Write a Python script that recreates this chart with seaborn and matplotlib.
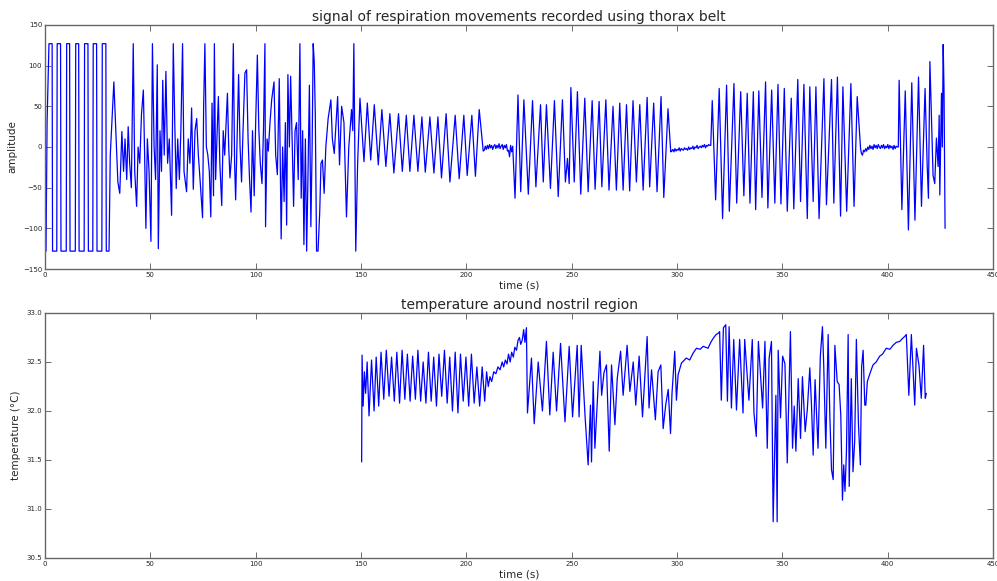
import matplotlib
matplotlib.use("Agg")
import matplotlib.pyplot as plt
import seaborn as sns

# ---- thorax belt signal (time s, amplitude) ----
square_t = [0, 0.5, 1.0, 1.9, 3.4, 3.6, 5.6, 5.8, 7.4, 7.6, 10.1, 10.3, 11.7, 11.9, 14.4, 14.6,
            16.0, 16.2, 18.6, 18.8, 20.4, 20.6, 22.7, 22.9, 24.5, 24.7, 27.0, 27.2, 28.9, 29.1, 30.4]
square_v = [-60, -128, 30, 127, 127, -128, -128, 127, 127, -128, -128, 127, 127, -128, -128, 127,
            127, -128, -128, 127, 127, -128, -128, 127, 127, -128, -128, 127, 127, -128, -128]

irregular_t = [31.0, 32.7, 34.6, 35.5, 36.5, 37.3, 38.0, 38.8, 39.5, 40.2, 41.0, 41.9, 42.6, 43.5,
               44.2, 45.0, 45.8, 46.7, 47.3, 47.9, 48.6, 49.4, 50.3, 51.0, 51.8, 52.5, 53.3, 53.8,
               54.6, 55.3, 55.9, 56.6, 57.4, 58.2, 59.0, 60.1, 60.9, 61.6, 62.3, 63.0, 63.8, 64.5,
               65.3, 66.0, 67.2, 68.0, 68.8, 69.6, 70.4, 71.2, 72.0, 72.8, 73.6, 74.8, 75.3, 75.9,
               76.6, 77.3, 78.0, 78.7, 79.3, 80.0, 80.4, 81.0, 81.6, 82.3, 83.0, 83.9, 84.6, 85.3,
               86.0, 86.6, 87.2, 87.8, 88.6, 89.4, 90.0, 90.5, 91.2, 91.9, 92.6, 93.3, 94.0, 94.9,
               95.7, 96.4, 97.1, 97.8, 98.5, 99.3, 100.0, 100.8, 101.5, 102.2, 103.0, 103.7, 104.4,
               104.7, 105.4, 106.0, 106.8, 107.6, 108.7, 109.5, 110.3, 111.2, 112.1, 112.8, 113.5,
               114.1, 114.7, 115.3, 116.0, 116.6, 117.3, 118.0, 118.7, 119.4, 120.2, 121.0, 121.6,
               122.3, 122.9, 123.6, 124.2, 124.8, 125.5, 126.2, 126.8, 127.3, 127.8, 128.3, 128.9,
               129.6, 130.4, 131.0, 131.7, 132.5, 133.3, 134.4, 135.7, 136.4, 137.3, 138.9, 139.8,
               140.8, 141.9, 143.1, 144.2, 145.5, 146.1, 146.6, 147.5, 148.4]
irregular_v = [-10, 80, -43, -57, 19, -30, 10, -40, 25, -20, -50, 127, -30, -73,
               0, -20, 40, 70, -10, -100, 10, -30, -116, 127, 0, -40, 101, -125,
               20, -30, 82, -10, 93, -20, 10, -84, 127, 30, -51, 10, -40, 20,
               127, -30, -55, 10, -20, 48, -52, 20, 35, -10, -40, -87, 48, 127,
               0, -10, -30, -86, 54, -60, 127, -40, 10, 62, -20, -72, 20, -10,
               30, 66, 0, -38, -10, 127, -20, -65, 10, 89, 0, -43, 20, 91,
               95, 10, -40, -80, 20, -60, 30, 113, 22, -20, -45, 20, 127,
               -98, 10, -5, 30, 58, 80, -10, -34, 84, -113, 0, -67,
               30, -96, 89, 0, 87, 10, -73, 20, 30, -40, 127, -63,
               20, -120, 10, -128, -40, 76, -98, 0, 127, 105, 40, -128,
               -128, -80, -20, -16, -57, 0, 35, 58, 10, -8, 62, -22,
               50, 30, -86, 0, 46, 20, 127, -128, -20]

regular1_t = [149.5, 151.4, 153.0, 154.6, 156.3, 158.2, 159.9, 161.8, 163.7, 165.6, 167.8, 169.6,
              171.5, 173.2, 175.1, 177.0, 178.9, 180.5, 182.7, 184.6, 186.5, 188.2, 190.4, 192.2,
              194.7, 196.6, 198.8, 200.4, 202.6, 204.3, 206.1, 208.0]
regular1_v = [60, -18, 54, -16, 52, -22, 46, -24, 41, -32, 41, -30,
              39, -30, 39, -30, 37, -31, 37, -32, 37, -38, 41, -43,
              39, -39, 39, -35, 39, -36, 46, -5]

flat1_t = [208.5, 209.0, 209.5, 210.0, 210.5, 211.0, 211.5, 212.0, 212.5, 213.0, 213.5, 214.0,
           214.5, 215.0, 215.5, 216.0, 216.5, 217.0, 217.5, 218.0, 218.5, 219.0, 219.5, 220.0,
           220.5, 221.0, 221.5, 222.0]
flat1_v = [-4, 1, -3, 2, -2, 3, -1, 2, -3, 1, 3, -2,
           2, -1, 4, -2, 1, 3, -3, 2, -1, 3, -5, -4,
           -12, 2, -6, 1]

regular2_t = [223.1, 224.5, 225.8, 227.3, 229.4, 231.4, 233.0, 235.2, 236.5, 238.0, 239.9, 241.8,
              243.6, 245.6, 247.0, 248.0, 248.8, 249.6, 251.2, 252.7, 254.3, 256.2, 257.8, 259.7,
              261.1, 263.0, 264.3, 266.2, 267.7, 269.6, 271.2, 272.8, 274.4, 276.0, 277.5, 279.1,
              280.7, 282.3, 283.9, 285.8, 287.0, 288.9, 290.5, 292.4, 293.7, 295.7, 297.0]
regular2_v = [-63, 64, -55, 58, -58, 57, -49, 52, -43, 52, -51, 57,
              -61, 58, -43, -14, -45, 73, -43, 68, -58, 60, -55, 57,
              -52, 56, -49, 58, -53, 50, -53, 54, -53, 52, -54, 57,
              -43, 52, -53, 61, -49, 54, -55, 62, -62, 47, -6]

flat2_t = [297.5, 298.0, 298.5, 299.0, 299.5, 300.0, 300.5, 301.0, 301.5, 302.0, 302.5, 303.0,
           303.5, 304.0, 304.5, 305.0, 305.5, 306.0, 306.5, 307.0, 307.5, 308.0, 308.5, 309.0,
           309.5, 310.0, 310.5, 311.0, 311.5, 312.0, 312.5, 313.0, 313.5, 314.0, 314.5, 315.0,
           315.5]
flat2_v = [-5, -3, -6, -2, -5, -3, -4, -1, -5, -2, -3, -4,
           -1, -3, -2, -4, 0, -3, -1, -2, 1, -3, 0, -1,
           2, -2, 0, 1, -1, 2, 0, 3, -1, 2, 1, 3,
           2]

regular3_t = [316.0, 316.7, 318.3, 320.0, 321.6, 323.5, 324.8, 327.0, 328.3, 330.2, 331.7, 333.3,
              334.6, 336.2, 337.3, 338.8, 340.3, 342.0, 343.1, 344.9, 346.4, 347.9, 349.3, 350.9,
              352.3, 354.2, 355.4, 357.3, 358.6, 360.2, 361.8, 363.0, 364.6, 365.9, 367.4, 369.7,
              370.9, 373.3, 374.4, 376.1, 377.6, 378.7, 380.5, 382.5, 384.0, 385.5, 387.1]
regular3_v = [2, 57, -65, 72, -88, 76, -79, 78, -69, 68, -60, 66,
              -69, 68, -77, 69, -62, 80, -75, 70, -69, 77, -70, 72,
              -79, 60, -76, 83, -67, 77, -88, 74, -67, 74, -88, 84,
              -71, 83, -69, 86, -85, 74, -79, 78, -73, 62, -2]

flat3_t = [387.5, 388.0, 388.5, 389.0, 389.5, 390.0, 390.5, 391.0, 391.5, 392.0, 392.5, 393.0,
           393.5, 394.0, 394.5, 395.0, 395.5, 396.0, 396.5, 397.0, 397.5, 398.0, 398.5, 399.0,
           399.5, 400.0, 400.5, 401.0, 401.5, 402.0, 402.5, 403.0, 403.5, 404.0, 404.5]
flat3_v = [-8, -10, -4, -6, -2, -5, 0, -3, 2, -2, 1, -3,
           3, -1, 2, -2, 3, 0, -2, 2, -1, 3, -2, 1,
           -1, 3, -2, 2, -1, 1, -3, 2, -2, 1, 0]

final_t = [405.0, 405.4, 406.7, 408.3, 409.8, 411.4, 412.9, 414.6, 416.0, 417.7, 418.7, 419.3,
           420.0, 421.5, 422.3, 423.1, 423.9, 424.4, 424.7, 425.5, 425.9, 426.3, 426.7, 427.2]
final_v = [0, 82, -77, 69, -102, 79, -90, 86, -73, 72, -22, -63,
           105, -35, -45, 11, -24, 39, -59, 66, 0, 126, 70, -100]

# ---- nostril temperature (time s, deg C) ----
temp_t = [150.3, 150.5, 151.0, 151.6, 152.2, 152.9, 153.8, 155.0, 156.2, 157.2, 158.4, 159.5,
          160.8, 162.0, 163.3, 164.5, 165.8, 167.0, 168.3, 169.5, 170.8, 172.0, 173.3, 174.5,
          175.8, 177.0, 178.3, 179.5, 180.8, 182.0, 183.3, 184.5, 185.8, 187.0, 188.3, 189.6,
          190.9, 192.1, 193.4, 194.7, 196.0, 197.2, 198.5, 199.8, 201.1, 202.4, 203.7, 205.0,
          206.3, 207.5, 208.7, 209.6, 210.4, 211.2, 212.0, 213.0,
          214.0, 215.0, 216.0, 217.0, 217.7, 218.5, 219.3, 220.0, 220.8, 221.5, 222.3, 223.0,
          223.8, 224.5, 225.2, 225.8, 226.5, 227.2, 227.8, 228.5, 229.0, 230.9, 232.2, 234.1,
          236.1, 238.0, 239.6, 241.2, 242.8, 244.7, 246.8, 248.8, 250.4, 252.6, 253.5, 254.5,
          256.3, 257.8, 258.9, 259.4, 260.2, 261.0, 263.4, 264.2, 265.3, 266.5, 267.8, 268.9,
          270.5, 271.6, 273.2, 274.4, 276.3, 277.6, 279.2, 280.4, 282.0, 283.6, 285.8, 286.7,
          287.9, 289.7, 291.0, 292.3, 293.4, 294.6, 295.8, 296.9, 297.6, 298.9, 299.7, 300.5,
          302.1, 304.4, 306.0, 307.6, 309.2, 311.0, 312.4, 313.5, 314.7, 316.0, 317.1, 318.5,
          319.4, 320.2, 321.0, 322.0, 323.1, 323.9, 324.7, 325.8, 326.9, 328.2, 329.7, 331.3,
          332.1, 334.1, 335.7, 336.5, 337.6, 338.6, 339.5, 340.6, 341.7, 342.8, 343.7, 344.8,
          345.6, 346.9, 347.5, 348.0, 349.1, 350.1, 351.2, 352.3, 353.8, 354.8, 355.6, 356.4,
          357.5, 358.6, 359.5, 360.8, 361.8, 363.0, 363.8, 364.6, 365.5, 366.9, 368.0, 369.0,
          369.6, 370.6, 371.7, 372.5, 373.3, 374.1, 374.9, 376.0, 376.9, 377.7, 378.5, 379.1,
          379.7, 380.4, 381.2, 381.7, 382.7, 383.5, 384.3, 385.1, 386.1, 387.0, 387.6, 388.3,
          389.1, 389.6, 390.3, 391.5, 393.0, 394.5, 396.2, 397.5, 399.3, 401.0, 402.5, 404.0,
          405.7, 407.0, 408.0, 408.8, 410.0, 411.2, 412.8, 413.6, 414.8, 415.9, 417.0, 417.8,
          418.3]
temp_v = [31.48, 32.57, 32.05, 32.40, 32.18, 32.50, 31.95, 32.52, 32.00, 32.55, 32.05, 32.60,
          32.12, 32.62, 32.15, 32.55, 32.10, 32.60, 32.08, 32.62, 32.12, 32.58, 32.10, 32.56,
          32.12, 32.62, 32.10, 32.50, 32.08, 32.60, 32.10, 32.55, 32.05, 32.58, 32.15, 32.62,
          32.08, 32.55, 32.00, 32.60, 31.98, 32.58, 32.10, 32.55, 32.05, 32.58, 32.08, 32.45,
          32.05, 32.45, 32.10, 32.40, 32.25, 32.35, 32.30, 32.40,
          32.38, 32.45, 32.42, 32.50, 32.45, 32.52, 32.48, 32.58, 32.50, 32.60, 32.55, 32.65,
          32.62, 32.72, 32.75, 32.68, 32.72, 32.83, 32.70, 32.85, 31.98, 32.54, 31.87, 32.50,
          32.00, 32.71, 31.96, 32.60, 32.00, 32.69, 31.89, 32.66, 31.94, 32.67, 31.94, 32.67,
          31.96, 31.45, 32.06, 31.48, 32.30, 31.62, 32.61, 32.16, 32.39, 32.47, 31.59, 32.47,
          31.86, 32.33, 32.61, 32.16, 32.67, 32.20, 32.50, 32.06, 32.56, 31.94, 32.76, 32.03,
          32.42, 31.91, 32.40, 32.47, 31.82, 32.06, 32.22, 31.77, 32.18, 32.61, 32.11, 32.37,
          32.49, 32.54, 32.52, 32.59, 32.64, 32.63, 32.66, 32.65, 32.64, 32.70, 32.74, 32.78,
          32.79, 32.81, 32.11, 32.85, 32.88, 32.10, 32.86, 32.03, 32.73, 32.01, 32.73, 31.98,
          32.73, 32.11, 32.73, 31.98, 31.74, 32.71, 32.40, 32.03, 32.71, 31.62, 32.54, 32.71,
          30.87, 32.16, 30.87, 32.62, 31.93, 32.56, 32.48, 31.47, 32.81, 31.62, 32.05, 31.59,
          32.33, 31.72, 32.35, 31.79, 32.01, 32.44, 32.06, 31.55, 32.32, 31.62, 32.56, 32.86,
          32.47, 31.62, 32.78, 31.96, 31.40, 31.30, 32.67, 32.30, 32.27, 31.96, 31.09, 31.45,
          31.18, 31.59, 32.78, 31.23, 32.33, 31.38, 31.69, 32.73, 31.86, 31.45, 32.45, 32.62,
          32.06, 32.06, 32.30, 32.38, 32.47, 32.50, 32.56, 32.58, 32.64, 32.63, 32.67, 32.70,
          32.71, 32.74, 32.76, 32.78, 32.16, 32.78, 32.06, 32.64, 32.47, 32.13, 32.67, 32.13,
          32.18]

x_ticks = [0, 50, 100, 150, 200, 250, 300, 350, 400, 450]
amp_ticks = [-150, -100, -50, 0, 50, 100, 150]
temp_ticks = [30.5, 31.0, 31.5, 32.0, 32.5, 33.0]

belt_t = (square_t + irregular_t + regular1_t + flat1_t + regular2_t + flat2_t
          + regular3_t + flat3_t + final_t)
belt_v = (square_v + irregular_v + regular1_v + flat1_v + regular2_v + flat2_v
          + regular3_v + flat3_v + final_v)

sns.set_style("ticks", {"xtick.direction": "in", "ytick.direction": "in"})
plt.rcParams["font.family"] = ["DejaVu Sans"]

fig = plt.figure(figsize=(9.97, 5.81), dpi=100)
ax1 = fig.add_axes([0.0451, 0.537, 0.951, 0.420])
ax2 = fig.add_axes([0.0451, 0.0396, 0.951, 0.4217])

sns.lineplot(x=belt_t, y=belt_v, ax=ax1, color="#0000ff", linewidth=0.9,
             sort=False, estimator=None)
sns.lineplot(x=temp_t, y=temp_v, ax=ax2, color="#0000ff", linewidth=0.9,
             sort=False, estimator=None)

ax1.set_xlim(0, 450)
ax1.set_ylim(-150, 150)
ax1.set_yticks(amp_ticks)
ax1.set_title("signal of respiration movements recorded using thorax belt", fontsize=10, pad=3)
ax1.set_ylabel("amplitude", fontsize=7.5, labelpad=4)

ax2.set_xlim(0, 450)
ax2.set_ylim(30.5, 33.0)
ax2.set_yticks(temp_ticks)
ax2.set_yticklabels([f"{v:.1f}" for v in temp_ticks])
ax2.set_title("temperature around nostril region", fontsize=10, pad=3)
ax2.set_ylabel("temperature (°C)", fontsize=7.5, labelpad=4)

for ax in (ax1, ax2):
    ax.set_xticks(x_ticks)
    ax.set_xlabel("time (s)", fontsize=7.5, labelpad=2)
    ax.tick_params(axis="both", direction="in", top=True, right=True, labelsize=5,
                   length=4, width=0.6, color="#555555", pad=2)
    for sp in ax.spines.values():
        sp.set_visible(True)
        sp.set_color("#666666")
        sp.set_linewidth(1.0)

fig.savefig("out.png", dpi=100, facecolor="white")
